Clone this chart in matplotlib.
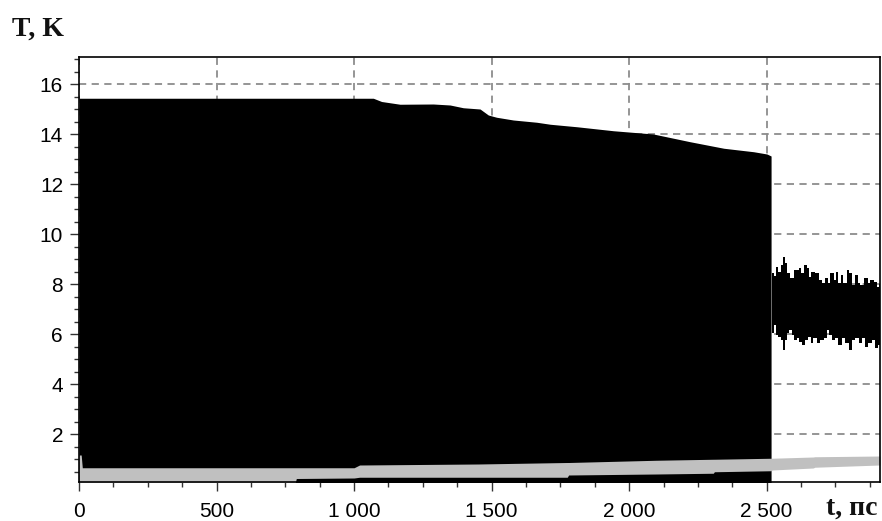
import numpy as np
import matplotlib.pyplot as plt
from matplotlib.ticker import MultipleLocator, FuncFormatter

# upper envelope of the oscillating temperature before the break (t, ps / T, K)
t_main = [0, 1070, 1100, 1167, 1288, 1349, 1397, 1458, 1488, 1518, 1579, 1664,
          1713, 1810, 1943, 2088, 2222, 2344, 2453, 2501, 2516]
T_main_top = [15.43, 15.43, 15.3, 15.19, 15.2, 15.16, 15.05, 15.0, 14.76, 14.67,
              14.56, 14.47, 14.39, 14.29, 14.13, 14.0, 13.69, 13.43, 13.29, 13.2, 13.12]

# envelopes after the break
t_tail_top = [2519, 2531, 2537, 2549, 2555, 2564, 2571, 2579, 2592, 2610, 2622, 2628,
              2640, 2652, 2658, 2664, 2688, 2695, 2707, 2719, 2725, 2737, 2749, 2755,
              2767, 2773, 2785, 2797, 2804, 2816, 2828, 2834, 2846, 2864, 2870, 2882,
              2895, 2907, 2912]
T_tail_top = [8.43, 8.3, 8.69, 8.49, 8.76, 9.09, 8.83, 8.43, 8.23, 8.56, 8.63, 8.43,
              8.76, 8.63, 8.29, 8.49, 8.43, 8.16, 8.03, 8.23, 8.03, 8.43, 8.16, 8.49,
              8.03, 8.36, 8.03, 8.56, 8.43, 7.96, 8.36, 8.03, 7.96, 8.23, 8.03, 8.16,
              8.09, 7.89, 8.0]
t_tail_low = [2519, 2531, 2537, 2549, 2555, 2564, 2571, 2579, 2585, 2598, 2604, 2616,
              2622, 2634, 2646, 2658, 2664, 2676, 2689, 2701, 2713, 2725, 2731, 2743,
              2755, 2767, 2779, 2792, 2804, 2816, 2828, 2840, 2852, 2864, 2876, 2888,
              2901, 2912]
T_tail_low = [6.03, 6.36, 5.96, 5.89, 5.76, 5.36, 5.76, 6.03, 6.16, 5.96, 5.76, 5.83,
              5.69, 5.56, 5.76, 5.89, 5.63, 5.83, 5.63, 5.76, 5.83, 6.16, 5.96, 5.76,
              5.83, 5.56, 5.83, 5.63, 5.36, 5.76, 5.83, 5.63, 5.83, 5.49, 5.63, 5.76,
              5.43, 5.56]

# second (grey) curve band
t_grey = [0, 8, 12, 785, 790, 1000, 1020, 1450, 1775, 1780, 2100, 2306, 2310, 2516,
          2520, 2669, 2675, 2912]
T_grey_top = [1.16, 1.16, 0.65, 0.65, 0.65, 0.65, 0.76, 0.8, 0.86, 0.86, 0.95, 0.99,
              0.99, 1.03, 1.03, 1.08, 1.09, 1.12]
T_grey_low = [0.0, 0.0, 0.0, 0.0, 0.22, 0.24, 0.27, 0.27, 0.27, 0.36, 0.40, 0.43,
              0.49, 0.53, 0.56, 0.64, 0.67, 0.76]

x_ticks = [0, 500, 1000, 1500, 2000, 2500]
y_ticks = [2, 4, 6, 8, 10, 12, 14, 16]

plt.rcParams['font.family'] = ['Liberation Sans', 'DejaVu Sans']

W, H = 882, 521
fig = plt.figure(figsize=(W / 100, H / 100), dpi=100)
ax = fig.add_axes([79 / W, (H - 482) / H, (880 - 79) / W, (482 - 57) / H])

ax.fill_between(t_main, 0, T_main_top, color='black', lw=0, antialiased=False, zorder=2)
ax.fill_between(t_tail_top, 6.6, T_tail_top, step='mid', color='black', lw=0,
                antialiased=False, zorder=2)
ax.fill_between(t_tail_low, T_tail_low, 7.8, step='mid', color='black', lw=0,
                antialiased=False, zorder=2)
ax.fill_between(t_grey, T_grey_low, T_grey_top, color='#c0c0c0', lw=0,
                antialiased=False, zorder=3)

ax.set_xlim(0, 2912)
ax.set_ylim(0.08, 17.08)

ax.set_xticks(x_ticks)
ax.set_yticks(y_ticks)
ax.xaxis.set_minor_locator(MultipleLocator(125))
ax.yaxis.set_minor_locator(MultipleLocator(0.5))
ax.xaxis.set_major_formatter(FuncFormatter(lambda v, p: f"{int(v):,}".replace(",", " ")))
ax.yaxis.set_major_formatter(FuncFormatter(lambda v, p: f"{int(v)}"))

ax.tick_params(which='major', length=6.5, width=1, color='#333333', labelsize=15)
ax.tick_params(which='minor', length=3.5, width=1, color='#333333')
ax.tick_params(axis='x', pad=8)
ax.tick_params(axis='y', pad=5)

ax.grid(True, which='major', color='#8c8c8c', linestyle=(0, (4, 3)), linewidth=1.3)
ax.set_axisbelow(True)
for s in ax.spines.values():
    s.set_linewidth(1.2)
    s.set_zorder(5)

serif = ['Liberation Serif', 'DejaVu Serif']
fig.text(12 / W, 1 - 29 / H, 'T, K', family=serif, fontweight='bold', fontsize=20,
         va='center', ha='left', color='#111111')
fig.text(878 / W, 1 - 508 / H, 't, пс', family=serif, fontweight='bold', fontsize=20,
         va='center', ha='right', color='#111111')

fig.savefig('out.png', dpi=100)
